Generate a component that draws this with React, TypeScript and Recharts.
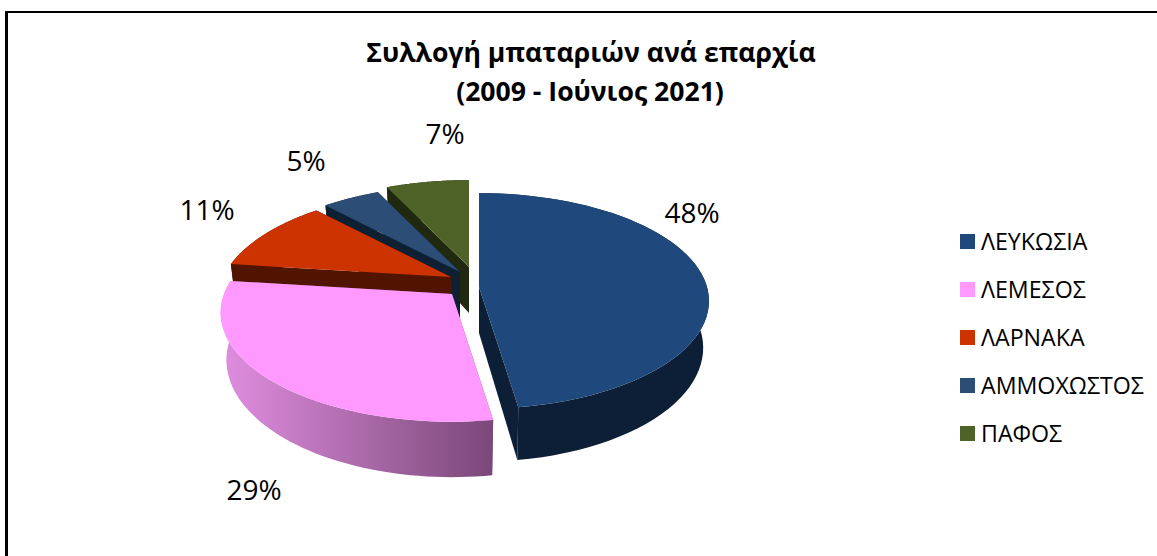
import React from 'react';
import { Legend, Pie, PieChart } from 'recharts';

const TITLE = ['Συλλογή μπαταριών ανά επαρχία', '(2009 - Ιούνιος 2021)'];
const CATEGORIES = ['ΛΕΥΚΩΣΙΑ', 'ΛΕΜΕΣΟΣ', 'ΛΑΡΝΑΚΑ', 'ΑΜΜΟΧΩΣΤΟΣ', 'ΠΑΦΟΣ'];
// unrounded shares estimated from the slice edges, the labels show them rounded
const VALUES = [47.6, 29.4, 11, 4.9, 7.1];

const TOP_COLORS = ['#1F497D', '#FF99FF', '#CC3300', '#2C4D75', '#4F6228'];
const WALL_COLORS = ['#0C1F37', 'url(#pinkWall)', '#501400', '#0F2033', '#20280F'];
// explosion of each slice away from the pie centre, in px
const EXPLODE = [[15, 4], [-12, 11], [-13, -6], [-4, -11], [5, -16]];
// label anchor relative to the pie centre
const LABEL_OFFSETS = [[228, -71], [-210, 206], [-257, -74], [-158, -123], [-19, -150]];
// slices pushed to the back shrink faster than the front ones
const PERSPECTIVE = [0.13, 0.17, 0.22, 0.22, 0.22];

const FONT = '"Open Sans", sans-serif';
const TILT = 0.465; // y squash of the pie disc
const DEPTH = 46;
const BOTTOM_SCALE = 0.975;

// drawn back to front, so the table runs against the legend order
const table = CATEGORIES.map((name, i) => ({ name, value: VALUES[i], fill: TOP_COLORS[i] })).reverse();

function Slice3D(props: any) {
  const { cx, cy, outerRadius, startAngle, endAngle, name } = props;
  const i = CATEGORIES.indexOf(name);
  const ax = cx + EXPLODE[i][0];
  const ay = cy + EXPLODE[i][1];

  const project = (deg: number) => {
    const t = (deg * Math.PI) / 180;
    const k = 1 / (1 + PERSPECTIVE[i] * Math.sin(t));
    const x = outerRadius * Math.cos(t) * k;
    const y = -outerRadius * TILT * Math.sin(t) * k;
    return { x: ax + x, y: ay + y, bx: ax + x * BOTTOM_SCALE, by: ay + y + DEPTH * k };
  };

  const steps = 60;
  const arc = [];
  for (let s = 0; s <= steps; s++) {
    arc.push(project(startAngle + ((endAngle - startAngle) * s) / steps));
  }
  const first = arc[0];
  const last = arc[steps];
  const topPath =
    `M${ax},${ay} ` + arc.map((p) => `L${p.x},${p.y}`).join(' ') + ' Z';
  const outerWall =
    arc.map((p, n) => `${n ? 'L' : 'M'}${p.x},${p.y}`).join(' ') +
    ' ' +
    [...arc].reverse().map((p) => `L${p.bx},${p.by}`).join(' ') +
    ' Z';
  const radialWall = (p: { x: number; y: number; bx: number; by: number }) =>
    `M${ax},${ay} L${p.x},${p.y} L${p.bx},${p.by} L${ax},${ay + DEPTH} Z`;

  const wall = WALL_COLORS[i];
  const flat = i === 1 ? '#7E4A7E' : wall;
  return (
    <g>
      <path d={radialWall(first)} fill={flat} />
      <path d={radialWall(last)} fill={flat} />
      <path d={outerWall} fill={wall} />
      <path d={topPath} fill={TOP_COLORS[i]} />
    </g>
  );
}

function PercentLabel(props: any) {
  const { cx, cy, name, value } = props;
  const off = LABEL_OFFSETS[CATEGORIES.indexOf(name)];
  return (
    <text
      x={cx + off[0]}
      y={cy + off[1]}
      textAnchor="middle"
      dominantBaseline="central"
      fontFamily={FONT}
      fontSize={28}
      fill="#000"
    >
      {Math.round(value)}%
    </text>
  );
}

function LegendList() {
  return (
    <div style={{ fontFamily: FONT, fontSize: 23.2, color: '#000' }}>
      {CATEGORIES.map((name, i) => (
        <div key={name} style={{ display: 'flex', alignItems: 'center', height: 48 }}>
          <span style={{ width: 15, height: 15, background: TOP_COLORS[i], marginRight: 6 }} />
          {name}
        </div>
      ))}
    </div>
  );
}

export default function App() {
  return (
    <div style={{ position: 'absolute', left: 0, top: 0, width: 1157, height: 556, background: '#fff', overflow: 'hidden' }}>
      <div style={{ position: 'absolute', left: 5, top: 11, right: 0, bottom: 0, borderLeft: '3px solid #000', borderTop: '2px solid #000' }} />
      <div style={{ position: 'absolute', left: 0, top: 0 }}>
        <PieChart width={1157} height={556} margin={{ top: 0, right: 0, bottom: 0, left: 0 }}>
          <defs>
            <linearGradient id="pinkWall" x1="0" y1="0" x2="1" y2="0">
              <stop offset="0%" stopColor="#E08EE0" />
              <stop offset="100%" stopColor="#7A4878" />
            </linearGradient>
          </defs>
          <text textAnchor="middle" fontFamily={FONT} fontSize={26.6} fontWeight={700} fill="#000">
            <tspan x={591} y={62}>{TITLE[0]}</tspan>
            <tspan x={590} y={101}>{TITLE[1]}</tspan>
          </text>
          <Pie
            data={table}
            dataKey="value"
            nameKey="name"
            cx={464}
            cy={283}
            innerRadius={0}
            outerRadius={228}
            startAngle={90}
            endAngle={450}
            stroke="none"
            shape={Slice3D}
            label={PercentLabel}
            labelLine={false}
            isAnimationActive={false}
          />
          <Legend
            layout="vertical"
            content={LegendList}
            wrapperStyle={{ position: 'absolute', left: 960, top: 217, width: 195, height: 240 }}
          />
        </PieChart>
      </div>
    </div>
  );
}
